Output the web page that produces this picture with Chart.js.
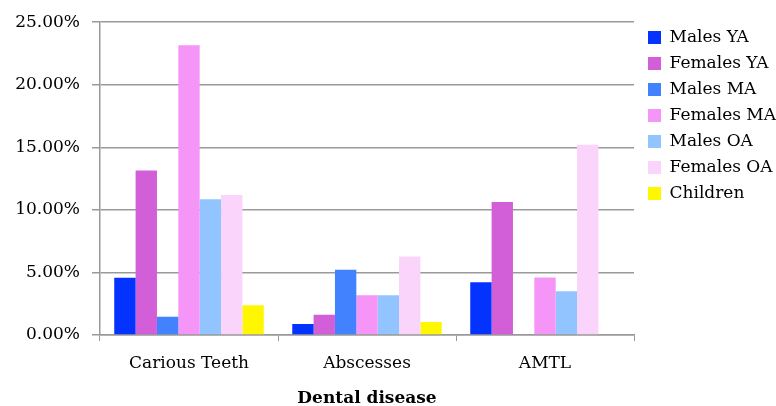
<!DOCTYPE html>
<html>
<head>
<meta charset="utf-8">
<script src="https://cdn.jsdelivr.net/npm/chart.js@4"></script>
<style>
  html, body { margin: 0; padding: 0; background: #fff; }
  #wrap { width: 776px; height: 406px; }
</style>
</head>
<body>
<div id="wrap"><canvas id="dentalChart"></canvas></div>
<script>
const categories = ['Carious Teeth', 'Abscesses', 'AMTL'];
const seriesNames = ['Males YA', 'Females YA', 'Males MA', 'Females MA', 'Males OA', 'Females OA', 'Children'];
const malesYA = [4.58, 0.87, 4.21];
const femalesYA = [13.15, 1.61, 10.63];
const malesMA = [1.45, 5.21, 0];
const femalesMA = [23.15, 3.17, 4.60];
const malesOA = [10.85, 3.17, 3.49];
const femalesOA = [11.19, 6.27, 15.21];
const children = [2.38, 1.03, 0];
const yTicks = [0, 5, 10, 15, 20, 25];

const colors = ['#0433ff', '#d35fd8', '#4282ff', '#f595f7', '#92c4ff', '#fad4fa', '#fff700'];
const allSeries = [malesYA, femalesYA, malesMA, femalesMA, malesOA, femalesOA, children];

const serif = 'DejaVu Serif';
const gridColor = '#9a9a9a';

// pousse la légende un peu vers la droite
const legendShift = {
    id: 'legendShift',
    afterLayout: (chart) => { chart.legend.left += 5; },
};

const ctx = document.getElementById('dentalChart').getContext('2d');
new Chart(ctx, {
    type: 'bar',
    data: {
        labels: categories,
        datasets: allSeries.map((values, i) => ({
            label: seriesNames[i],
            data: values,
            backgroundColor: colors[i],
            borderWidth: 0,
            barPercentage: 1,
            categoryPercentage: 0.84,
        })),
    },
    plugins: [legendShift],
    options: {
        responsive: true,
        maintainAspectRatio: false,
        animation: false,
        layout: { padding: { top: 20, right: -5, bottom: 0, left: 0 } },
        plugins: {
            tooltip: { enabled: false },
            legend: {
                position: 'right',
                align: 'start',
                labels: {
                    boxWidth: 13,
                    boxHeight: 13,
                    padding: 9,
                    color: '#000',
                    font: { family: serif, size: 17 },
                },
            },
        },
        scales: {
            x: {
                afterFit: (scale) => { scale.height = 71; },
                grid: {
                    display: true,
                    drawOnChartArea: false,
                    offset: true,
                    tickLength: 6,
                    color: gridColor,
                },
                border: { color: gridColor, width: 1.5 },
                ticks: {
                    color: '#000',
                    padding: 12,
                    font: { family: serif, size: 17 },
                },
                title: {
                    display: true,
                    text: 'Dental disease',
                    color: '#000',
                    font: { family: serif, size: 17, weight: 'bold' },
                    padding: { top: 4, bottom: -3 },
                },
            },
            y: {
                min: 0,
                max: 25,
                afterFit: (scale) => { scale.width = 100; },
                afterBuildTicks: (scale) => { scale.ticks = yTicks.map((v) => ({ value: v })); },
                grid: {
                    color: gridColor,
                    lineWidth: 1.5,
                    tickLength: 8,
                },
                border: { color: gridColor, width: 1.5 },
                ticks: {
                    color: '#000',
                    padding: 12,
                    font: { family: serif, size: 17 },
                    callback: (v) => v.toFixed(2) + '%',
                },
            },
        },
    },
});
</script>
</body>
</html>
